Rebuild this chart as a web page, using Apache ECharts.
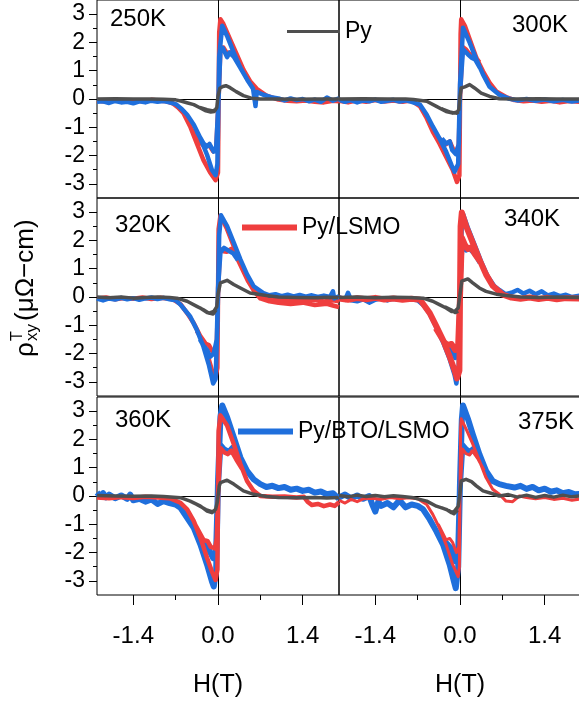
<!DOCTYPE html>
<html>
<head>
<meta charset="utf-8">
<script src="https://cdn.jsdelivr.net/npm/echarts@6.0.0/dist/echarts.min.js"></script>
<style>
  html, body { margin: 0; padding: 0; background: #fff; }
  #chart { width: 579px; height: 704px; }
</style>
</head>
<body>
<div id="chart"></div>
<script>
// panel temperatures
var temps = ['250K', '300K', '320K', '340K', '360K', '375K'];

// axis ticks
var xTicks = [-1.4, 0, 1.4];
var xMinor = [-0.7, 0.7];
var yTicks = [-3, -2, -1, 0, 1, 2, 3];
var yMinor = [-2.5, -1.5, -0.5, 0.5, 1.5, 2.5];

// ---- 250K ----
var py250 = [[-2,0],[-1.7,0.01],[-1.4,0],[-1.1,0],[-0.9,-0.01],[-0.7,-0.03],[-0.6,-0.08],[-0.5,-0.14],[-0.4,-0.2],[-0.3,-0.31],[-0.2,-0.42],[-0.12,-0.46],[-0.06,-0.44],[-0.02,-0.3],[0,0.1],[0.03,0.38],[0.08,0.44],[0.13,0.47],[0.2,0.4],[0.3,0.26],[0.42,0.12],[0.55,0.03],[0.7,0],[1,0],[1.3,-0.01],[1.6,0],[2,0],
  ['-','-'],[-0.3,-0.3],[-0.18,-0.38],[-0.08,-0.42],[-0.03,-0.36]];
var lsmo250 = [[-2,-0.05],[-1.85,-0.1],[-1.7,-0.04],[-1.55,-0.09],[-1.4,-0.05],[-1.25,-0.08],[-1.1,-0.03],[-0.95,-0.06],[-0.85,-0.08],[-0.75,-0.15],[-0.66,-0.3],[-0.57,-0.5],[-0.46,-0.97],[-0.35,-1.57],[-0.24,-2.16],[-0.13,-2.6],[-0.04,-2.87],[0,-2.6],[0.02,2.35],[0.04,2.82],[0.09,2.65],[0.2,2.11],[0.31,1.58],[0.42,1.04],[0.53,0.63],[0.64,0.36],[0.8,0.12],[1,-0.02],[1.15,-0.06],[1.3,-0.08],[1.45,-0.05],[1.6,-0.1],[1.75,-0.12],[1.9,-0.06],[2,-0.08],
  ['-','-'],[-0.4,-1.05],[-0.3,-1.5],[-0.22,-1.7],[-0.15,-1.62],[-0.08,-1.85],[-0.03,-1.8],[0.01,0],[0.04,1.8],[0.09,1.82],[0.15,1.6],[0.2,1.65],[0.3,1.42],[0.4,1.05]];
var bto250 = [[-2,-0.1],[-1.9,-0.08],[-1.8,-0.14],[-1.7,-0.07],[-1.6,-0.12],[-1.5,-0.1],[-1.4,-0.15],[-1.3,-0.08],[-1.2,-0.12],[-1.1,-0.06],[-1,-0.1],[-0.9,-0.07],[-0.8,-0.12],[-0.7,-0.18],[-0.6,-0.35],[-0.51,-0.56],[-0.4,-0.91],[-0.29,-1.39],[-0.18,-1.98],[-0.1,-2.51],[-0.04,-2.69],[-0.01,-2.3],[0.02,1.5],[0.07,2.59],[0.15,2.23],[0.26,1.64],[0.37,1.1],[0.48,0.69],[0.58,0.36],[0.6,0.3],[0.62,-0.25],[0.64,0.25],[0.75,0.15],[0.9,0.05],[1,0.02],[1.1,-0.05],[1.2,0.02],[1.3,-0.04],[1.4,0],[1.5,-0.08],[1.6,-0.02],[1.7,-0.1],[1.8,0.05],[1.9,-0.06],[2,0.02],
  ['-','-'],[-0.35,-1.15],[-0.24,-1.57],[-0.18,-1.68],[-0.14,-1.59],[-0.07,-1.86],[-0.03,-1.7],[0.01,0],[0.04,1.76],[0.08,1.8],[0.15,1.48],[0.19,1.64],[0.26,1.5],[0.37,1.1]];

// ---- 300K ----
var py300 = [[-2,0],[-1.6,0.01],[-1.2,0],[-0.9,0],[-0.77,-0.02],[-0.55,-0.08],[-0.39,-0.26],[-0.23,-0.44],[-0.12,-0.5],[-0.05,-0.46],[-0.02,-0.38],[0,0.1],[0.02,0.39],[0.08,0.43],[0.16,0.51],[0.24,0.39],[0.35,0.21],[0.49,0.09],[0.65,0.01],[0.9,0],[1.3,0.01],[1.6,0],[2,0],
  ['-','-'],[-0.3,-0.35],[-0.15,-0.47],[-0.06,-0.5],[-0.02,-0.45]];
var lsmo300 = [[-2,-0.06],[-1.85,-0.12],[-1.7,-0.05],[-1.55,-0.1],[-1.4,-0.04],[-1.25,-0.09],[-1.1,-0.05],[-0.95,-0.1],[-0.85,-0.06],[-0.77,-0.1],[-0.66,-0.26],[-0.55,-0.68],[-0.45,-1.15],[-0.34,-1.57],[-0.23,-2.04],[-0.12,-2.51],[-0.05,-2.93],[-0.01,-2.7],[0.01,2.3],[0.02,2.82],[0.08,2.59],[0.16,2.11],[0.27,1.46],[0.38,0.98],[0.49,0.57],[0.6,0.27],[0.76,0.07],[0.9,-0.04],[1.05,-0.08],[1.2,-0.05],[1.35,-0.1],[1.5,-0.06],[1.65,-0.12],[1.8,-0.07],[2,-0.1],
  ['-','-'],[-0.4,-1.3],[-0.23,-1.6],[-0.17,-1.5],[-0.12,-1.75],[-0.06,-1.9],[-0.02,-1.6],[0,0],[0.04,1.85],[0.1,1.75],[0.17,1.55],[0.22,1.6],[0.32,1.3]];
var bto300 = [[-2,-0.02],[-1.9,-0.1],[-1.8,-0.04],[-1.7,-0.12],[-1.6,-0.05],[-1.5,-0.08],[-1.4,-0.02],[-1.3,-0.1],[-1.2,-0.06],[-1.1,-0.03],[-1,-0.09],[-0.9,-0.05],[-0.8,-0.1],[-0.66,-0.2],[-0.55,-0.56],[-0.45,-0.97],[-0.34,-1.39],[-0.23,-1.86],[-0.14,-2.34],[-0.09,-2.57],[-0.03,-2.3],[0,0.5],[0.05,2.52],[0.16,1.99],[0.27,1.4],[0.38,0.87],[0.49,0.43],[0.65,0.15],[0.8,0.02],[0.95,-0.05],[1.1,0],[1.25,-0.06],[1.4,-0.02],[1.55,-0.08],[1.7,-0.03],[1.85,-0.09],[2,-0.04],
  ['-','-'],[-0.3,-1.4],[-0.23,-1.57],[-0.17,-1.5],[-0.13,-1.8],[-0.07,-1.95],[-0.02,-1.6],[0,0.2],[0.05,1.76],[0.13,1.58],[0.19,1.46],[0.25,1.4],[0.33,1.1]];

// ---- 320K ----
var py320 = [[-2,0],[-1.8,-0.03],[-1.6,0],[-1.4,-0.04],[-1.2,-0.02],[-1,0],[-0.8,-0.02],[-0.68,-0.04],[-0.51,-0.15],[-0.35,-0.33],[-0.24,-0.45],[-0.15,-0.57],[-0.07,-0.51],[-0.02,-0.34],[0,0.1],[0.04,0.5],[0.15,0.59],[0.26,0.44],[0.37,0.32],[0.53,0.14],[0.8,0.05],[1,0],[1.3,-0.02],[1.6,-0.03],[1.8,-0.01],[2,-0.02],
  ['-','-'],[-0.3,-0.38],[-0.18,-0.55],[-0.08,-0.6],[-0.03,-0.45]];
var lsmo320 = [[-2,-0.05],[-1.85,-0.02],[-1.7,-0.08],[-1.55,-0.04],[-1.4,-0.06],[-1.25,-0.02],[-1.1,-0.07],[-0.95,-0.03],[-0.8,-0.06],[-0.73,-0.1],[-0.62,-0.25],[-0.51,-0.57],[-0.4,-0.93],[-0.29,-1.4],[-0.18,-1.99],[-0.1,-2.59],[-0.04,-2.82],[-0.01,-2.5],[0.01,2.4],[0.04,2.87],[0.15,2.4],[0.26,1.8],[0.37,1.21],[0.48,0.68],[0.59,0.26],[0.75,-0.04],[0.85,-0.1],[1,-0.06],[1.15,-0.12],[1.3,-0.08],[1.45,-0.14],[1.6,-0.1],[1.75,-0.16],[1.9,-0.12],[2,-0.15],
  ['-','-'],[-0.35,-1.2],[-0.2,-1.66],[-0.15,-1.7],[-0.1,-1.9],[-0.05,-2],[-0.02,-1.7],[0,0],[0.03,1.7],[0.09,1.62],[0.15,1.6],[0.22,1.7],[0.3,1.45],[0.4,1],[0.5,0.55],[0.6,0.2],[0.7,-0.05],[0.85,-0.15],[1,-0.2],[1.2,-0.25],[1.4,-0.2],[1.6,-0.28],[1.8,-0.24],[1.9,-0.3],[2,-0.36]];
var bto320 = [[-2,-0.06],[-1.9,-0.12],[-1.8,-0.05],[-1.7,-0.09],[-1.6,-0.03],[-1.5,-0.08],[-1.4,-0.04],[-1.3,-0.1],[-1.2,-0.05],[-1.1,-0.02],[-1,-0.07],[-0.9,-0.03],[-0.8,-0.08],[-0.7,-0.12],[-0.62,-0.27],[-0.46,-0.69],[-0.35,-1.16],[-0.24,-1.76],[-0.15,-2.41],[-0.08,-3.06],[-0.04,-2.9],[-0.01,-1],[0.02,2.2],[0.05,2.89],[0.15,2.51],[0.26,1.92],[0.37,1.33],[0.48,0.8],[0.59,0.38],[0.75,0.14],[0.85,0.06],[0.95,0.1],[1.05,0.03],[1.15,0.08],[1.25,0.02],[1.35,0.07],[1.45,0.01],[1.55,0.06],[1.65,0],[1.75,0.05],[1.85,0],[1.9,0.2],[1.92,-0.05],[2,0.02],
  ['-','-'],[-0.3,-1.5],[-0.24,-1.72],[-0.18,-1.87],[-0.13,-2.11],[-0.07,-2],[-0.02,-1.5],[0,0.3],[0.04,1.57],[0.1,1.74],[0.18,1.63],[0.25,1.55],[0.33,1.3]];

// ---- 340K ----
var py340 = [[-2,-0.02],[-1.7,0],[-1.4,-0.03],[-1.1,-0.01],[-0.85,-0.02],[-0.61,-0.04],[-0.45,-0.15],[-0.34,-0.27],[-0.23,-0.39],[-0.14,-0.51],[-0.09,-0.51],[-0.03,-0.39],[0,0.1],[0.03,0.56],[0.13,0.64],[0.21,0.5],[0.32,0.32],[0.43,0.2],[0.6,0.1],[0.76,0.05],[1,0],[1.3,-0.02],[1.6,0],[2,-0.02],
  ['-','-'],[-0.25,-0.35],[-0.15,-0.45],[-0.08,-0.55],[-0.03,-0.5]];
var lsmo340 = [[-2,-0.05],[-1.85,-0.1],[-1.7,-0.04],[-1.55,-0.08],[-1.4,-0.03],[-1.25,-0.09],[-1.1,-0.05],[-0.95,-0.1],[-0.8,-0.06],[-0.66,-0.1],[-0.5,-0.57],[-0.39,-1.04],[-0.28,-1.52],[-0.17,-2.11],[-0.09,-2.59],[-0.05,-2.88],[-0.01,-2.6],[0.01,2.5],[0.03,2.99],[0.1,2.51],[0.21,1.92],[0.32,1.33],[0.43,0.8],[0.54,0.4],[0.71,0.08],[0.85,-0.02],[1,-0.06],[1.15,-0.02],[1.3,-0.07],[1.45,-0.03],[1.6,-0.08],[1.75,-0.04],[2,-0.06],
  ['-','-'],[-0.4,-1.1],[-0.26,-1.6],[-0.2,-1.7],[-0.14,-1.66],[-0.08,-1.87],[-0.03,-1.7],[0,0],[0.03,2.1],[0.08,1.85],[0.13,1.7],[0.18,1.75],[0.25,1.5],[0.35,1.2]];
var bto340 = [[-2,0],[-1.9,-0.1],[-1.85,0.15],[-1.8,-0.12],[-1.7,-0.15],[-1.6,-0.08],[-1.5,-0.2],[-1.4,-0.1],[-1.3,-0.05],[-1.2,-0.12],[-1.1,-0.06],[-1,-0.1],[-0.9,-0.04],[-0.8,-0.08],[-0.7,-0.12],[-0.6,-0.3],[-0.5,-0.6],[-0.39,-1.08],[-0.28,-1.6],[-0.17,-2.2],[-0.09,-2.75],[-0.06,-3.06],[-0.02,-2.4],[0,0.5],[0.03,2.6],[0.05,2.93],[0.13,2.45],[0.24,1.85],[0.35,1.25],[0.46,0.72],[0.57,0.38],[0.65,0.25],[0.75,0.1],[0.85,0.15],[0.95,0.25],[1.05,0.12],[1.15,0.22],[1.25,0.1],[1.35,0.2],[1.45,0.06],[1.55,0.12],[1.65,0.03],[1.75,0.08],[1.85,0],[2,0.05],
  ['-','-'],[-0.3,-1.45],[-0.2,-1.75],[-0.13,-1.9],[-0.08,-2.15],[-0.03,-1.8],[0,0.3],[0.04,1.9],[0.1,1.65],[0.16,1.7],[0.25,1.5],[0.33,1.2]];

// ---- 360K ----
var py360 = [[-2,0.02],[-1.7,0],[-1.4,-0.01],[-1.1,0],[-0.9,-0.02],[-0.62,-0.06],[-0.46,-0.18],[-0.29,-0.36],[-0.18,-0.53],[-0.1,-0.59],[-0.04,-0.47],[-0.01,-0.2],[0.02,0.35],[0.04,0.47],[0.15,0.56],[0.26,0.42],[0.42,0.18],[0.59,0.06],[0.8,-0.02],[1,-0.05],[1.3,-0.06],[1.6,-0.05],[1.8,-0.07],[2,-0.05],
  ['-','-'],[-0.35,-0.3],[-0.2,-0.48],[-0.1,-0.55],[-0.04,-0.52]];
var lsmo360 = [[-2,-0.05],[-1.8,-0.08],[-1.6,-0.04],[-1.4,-0.07],[-1.2,-0.03],[-1,-0.05],[-0.8,-0.08],[-0.62,-0.24],[-0.51,-0.47],[-0.4,-0.89],[-0.29,-1.48],[-0.18,-2.19],[-0.1,-2.67],[-0.04,-2.97],[-0.01,-2.6],[0.01,2.3],[0.04,2.85],[0.15,2.49],[0.26,1.84],[0.37,1.13],[0.48,0.53],[0.59,0.18],[0.7,0],[0.9,-0.03],[1.1,-0.02],[1.3,-0.05],[1.42,-0.03],[1.48,-0.2],[1.55,-0.32],[1.65,-0.28],[1.75,-0.36],[1.85,-0.3],[1.93,-0.35],[2,-0.22],
  ['-','-'],[-0.38,-1],[-0.24,-1.55],[-0.17,-1.6],[-0.12,-1.8],[-0.05,-1.85],[-0.02,-1.5],[0,0],[0.04,1.7],[0.1,1.55],[0.16,1.48],[0.22,1.6],[0.3,1.3],[0.4,0.95]];
var bto360 = [[-2,0.12],[-1.95,0],[-1.9,0.1],[-1.85,-0.05],[-1.8,0.05],[-1.7,-0.08],[-1.6,0.02],[-1.5,-0.1],[-1.45,0.05],[-1.4,-0.15],[-1.3,-0.1],[-1.2,-0.2],[-1.1,-0.12],[-1,-0.28],[-0.9,-0.18],[-0.8,-0.25],[-0.7,-0.3],[-0.62,-0.42],[-0.51,-0.77],[-0.4,-1.13],[-0.29,-1.72],[-0.18,-2.43],[-0.1,-3.02],[-0.07,-3.2],[-0.03,-2.6],[0,0.5],[0.04,2.8],[0.07,3.2],[0.15,2.79],[0.26,2.08],[0.37,1.36],[0.48,0.89],[0.59,0.59],[0.7,0.42],[0.8,0.32],[0.9,0.36],[1,0.28],[1.1,0.32],[1.2,0.22],[1.3,0.26],[1.4,0.18],[1.5,0.22],[1.6,0.12],[1.7,0.16],[1.8,0.06],[1.9,0.1],[2,-0.1],
  ['-','-'],[-0.3,-1.5],[-0.22,-1.7],[-0.15,-1.9],[-0.08,-2.2],[-0.03,-1.9],[0,0.4],[0.04,1.8],[0.1,1.65],[0.18,1.55],[0.24,1.7],[0.33,1.3]];

// ---- 375K ----
var py375 = [[-2,0.02],[-1.85,-0.03],[-1.7,0.03],[-1.55,-0.02],[-1.4,0.02],[-1.25,-0.03],[-1.1,0.01],[-0.95,-0.02],[-0.8,-0.05],[-0.55,-0.18],[-0.39,-0.36],[-0.23,-0.47],[-0.14,-0.59],[-0.09,-0.53],[-0.03,-0.36],[0,0.1],[0.02,0.53],[0.1,0.59],[0.19,0.51],[0.27,0.36],[0.38,0.18],[0.54,0.08],[0.65,0],[0.8,0.05],[0.95,-0.04],[1.1,0.03],[1.25,-0.05],[1.4,0.02],[1.55,-0.04],[1.7,0.03],[1.85,-0.03],[2,0.01],
  ['-','-'],[-0.3,-0.42],[-0.18,-0.52],[-0.1,-0.63],[-0.04,-0.5]];
var lsmo375 = [[-2,-0.15],[-1.9,-0.25],[-1.8,-0.12],[-1.7,-0.2],[-1.6,-0.1],[-1.45,-0.08],[-1.3,-0.12],[-1.15,-0.05],[-1,-0.1],[-0.85,-0.06],[-0.7,-0.1],[-0.55,-0.3],[-0.45,-0.65],[-0.34,-1.13],[-0.23,-1.72],[-0.12,-2.43],[-0.03,-2.85],[-0.01,-2.5],[0.01,2.4],[0.02,2.73],[0.1,2.37],[0.21,1.84],[0.32,1.25],[0.43,0.65],[0.54,0.24],[0.65,0.06],[0.76,-0.18],[0.87,-0.2],[0.98,0],[1.1,-0.05],[1.25,-0.1],[1.4,-0.05],[1.55,-0.12],[1.7,-0.08],[1.85,-0.15],[2,-0.1],
  ['-','-'],[-0.36,-1],[-0.23,-1.55],[-0.17,-1.5],[-0.12,-1.65],[-0.06,-2],[-0.02,-1.8],[0,0],[0.04,1.66],[0.1,1.5],[0.16,1.45],[0.2,1.6],[0.3,1.3],[0.4,0.9]];
var bto375 = [[-2,-0.05],[-1.9,0.05],[-1.8,-0.08],[-1.7,0.02],[-1.6,-0.1],[-1.5,0],[-1.45,-0.3],[-1.4,-0.55],[-1.35,-0.2],[-1.3,-0.35],[-1.2,-0.25],[-1.1,-0.4],[-1,-0.15],[-0.9,-0.4],[-0.8,-0.3],[-0.7,-0.35],[-0.61,-0.47],[-0.5,-0.83],[-0.39,-1.25],[-0.28,-1.72],[-0.17,-2.43],[-0.1,-3.02],[-0.07,-3.26],[-0.03,-2.5],[0,0.5],[0.03,2.7],[0.05,3.2],[0.13,2.73],[0.21,2.19],[0.32,1.48],[0.43,0.89],[0.54,0.53],[0.65,0.42],[0.76,0.36],[0.9,0.3],[1,0.36],[1.1,0.25],[1.2,0.32],[1.3,0.2],[1.4,0.26],[1.5,0.15],[1.6,0.2],[1.7,0.1],[1.8,0.14],[1.9,0.06],[2,0.08],
  ['-','-'],[-0.3,-1.5],[-0.22,-1.68],[-0.15,-1.85],[-0.08,-2.3],[-0.03,-2],[0,0.4],[0.04,1.8],[0.1,1.65],[0.16,1.55],[0.24,1.7],[0.33,1.35]];

var pyData = [py250, py300, py320, py340, py360, py375];
var lsmoData = [lsmo250, lsmo300, lsmo320, lsmo340, lsmo360, lsmo375];
var btoData = [bto250, bto300, bto320, bto340, bto360, bto375];

// layout
var FONT = '"Liberation Sans", Arial, sans-serif';
var panelLeft = [97, 339, 97, 339, 97, 339];
var panelTop = [0, 0, 198, 198, 397, 397];
var panelW = 242, panelH = 198;
var labelPos = [[110, 19], [512, 25], [115, 225], [504, 219], [115, 420], [518, 422]];
var lsmoWidth = [4.5, 4.5, 4.5, 6, 4.5, 3];
var btoWidth = [4.5, 4.5, 4.5, 4.5, 6, 6];
var redOnTop = [false, false, false, true, true, true];
var RED = '#ef3e3e', BLUE = '#1f6fdc', GRAY = '#4f4f4f';

var chart = echarts.init(document.getElementById('chart'));

var grids = [], xAxes = [], yAxes = [], series = [], graphic = [];

temps.forEach(function (t, g) {
  grids.push({
    left: panelLeft[g], top: panelTop[g], width: panelW, height: panelH,
    show: true, borderColor: '#000', borderWidth: 1, backgroundColor: 'transparent',
    outerBoundsMode: 'none'
  });
  // zero lines (axis lines sitting on zero)
  xAxes.push({
    gridIndex: g, type: 'value', min: -2, max: 2, position: 'bottom',
    axisLine: { onZero: true, lineStyle: { color: '#000', width: 1 } },
    axisTick: { show: false }, axisLabel: { show: false }, splitLine: { show: false }
  });
  yAxes.push({
    gridIndex: g, type: 'value', min: -3.5, max: 3.5, position: 'left',
    axisLine: { onZero: true, lineStyle: { color: '#000', width: 1 } },
    axisTick: { show: false }, axisLabel: { show: false }, splitLine: { show: false }
  });

  var red = {
    name: 'Py/LSMO', type: 'line', xAxisIndex: g, yAxisIndex: g, data: lsmoData[g],
    symbol: 'none', color: RED, lineStyle: { color: RED, width: lsmoWidth[g], join: 'round' }
  };
  var blue = {
    name: 'Py/BTO/LSMO', type: 'line', xAxisIndex: g, yAxisIndex: g, data: btoData[g],
    symbol: 'none', color: BLUE, lineStyle: { color: BLUE, width: btoWidth[g], join: 'round' }
  };
  var gray = {
    name: 'Py', type: 'line', xAxisIndex: g, yAxisIndex: g, data: pyData[g],
    symbol: 'none', color: GRAY, lineStyle: { color: GRAY, width: 3.5, join: 'round' }
  };
  if (redOnTop[g]) series.push(blue, red, gray);
  else series.push(red, blue, gray);

  graphic.push({
    type: 'text', x: labelPos[g][0], y: labelPos[g][1],
    style: { text: t, fontSize: 24, fontFamily: FONT, fill: '#000', verticalAlign: 'middle' }
  });
});

// ticks and labels: bottom row x axes
[4, 5].forEach(function (g) {
  xAxes.push({
    gridIndex: g, type: 'value', min: -2, max: 2, position: 'bottom',
    name: 'H(T)', nameLocation: 'middle', nameGap: 78,
    nameTextStyle: { fontSize: 25, color: '#000', fontFamily: FONT },
    axisLine: { onZero: false, show: false },
    axisTick: { show: true, length: 10, customValues: xTicks, lineStyle: { color: '#000' } },
    axisLabel: {
      customValues: xTicks, fontSize: 24, color: '#000', fontFamily: FONT, margin: 29,
      formatter: function (v) { return Number(v).toFixed(1); }
    },
    splitLine: { show: false }
  });
  xAxes.push({
    gridIndex: g, type: 'value', min: -2, max: 2, position: 'bottom',
    axisLine: { onZero: false, show: false },
    axisTick: { show: true, length: 5, customValues: xMinor, lineStyle: { color: '#000' } },
    axisLabel: { show: false }, splitLine: { show: false }
  });
});

// ticks and labels: left column y axes
[0, 2, 4].forEach(function (g) {
  yAxes.push({
    gridIndex: g, type: 'value', min: -3.5, max: 3.5, position: 'left',
    axisLine: { onZero: false, show: false },
    axisTick: { show: true, length: 8, customValues: yTicks, lineStyle: { color: '#000' } },
    axisLabel: { customValues: yTicks, fontSize: 23, color: '#000', fontFamily: FONT, margin: 12 },
    splitLine: { show: false }
  });
  yAxes.push({
    gridIndex: g, type: 'value', min: -3.5, max: 3.5, position: 'left',
    axisLine: { onZero: false, show: false },
    axisTick: { show: true, length: 4, customValues: yMinor, lineStyle: { color: '#000' } },
    axisLabel: { show: false }, splitLine: { show: false }
  });
});

// y axis title, rotated
graphic.push({
  type: 'group', x: 26, y: 357, rotation: Math.PI / 2,
  children: [
    { type: 'text', x: 0, y: 0, style: { text: 'ρ', fontSize: 26, fontFamily: FONT, fill: '#000', verticalAlign: 'middle' } },
    { type: 'text', x: 16, y: -8, style: { text: 'T', fontSize: 16, fontFamily: FONT, fill: '#000', verticalAlign: 'middle' } },
    { type: 'text', x: 16, y: 6, style: { text: 'xy', fontSize: 17, fontFamily: FONT, fill: '#000', verticalAlign: 'middle' } },
    { type: 'text', x: 36, y: 0, style: { text: '(μΩ−cm)', fontSize: 26, fontFamily: FONT, fill: '#000', verticalAlign: 'middle' } }
  ]
});

var legendBase = {
  orient: 'horizontal', icon: 'rect', padding: 0, itemGap: 0, selectedMode: false,
  textStyle: { fontSize: 23, color: '#000', fontFamily: FONT }
};

chart.setOption({
  animation: false,
  backgroundColor: '#fff',
  textStyle: { fontFamily: FONT },
  grid: grids,
  xAxis: xAxes,
  yAxis: yAxes,
  legend: [
    Object.assign({}, legendBase, { data: ['Py'], left: 287, top: 20, itemWidth: 53, itemHeight: 3 }),
    Object.assign({}, legendBase, { data: ['Py/LSMO'], left: 242, top: 216, itemWidth: 55, itemHeight: 6 }),
    Object.assign({}, legendBase, { data: ['Py/BTO/LSMO'], left: 238, top: 420, itemWidth: 55, itemHeight: 6 })
  ],
  graphic: graphic,
  series: series
});
</script>
</body>
</html>
